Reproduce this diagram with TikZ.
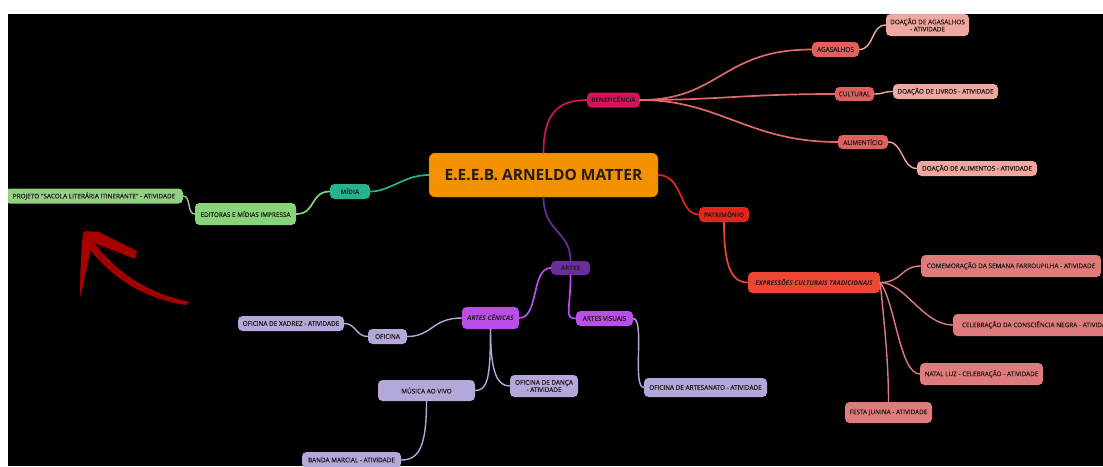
\documentclass[tikz,border=0pt]{standalone}
\usepackage{fontspec}
\setmainfont{Open Sans}
\newfontfamily\semi{Open Sans}[FakeBold=0.5]
\definecolor{txt}{HTML}{241C1C}
\definecolor{cRoot}{HTML}{F39200}
\definecolor{cBen}{HTML}{D3135A}
\definecolor{cBenL}{HTML}{E0605E}
\definecolor{cBenLine}{HTML}{E06A68}
\definecolor{cDoa}{HTML}{EFA89F}
\definecolor{cPat}{HTML}{E8231A}
\definecolor{cExp}{HTML}{EE4634}
\definecolor{cExpL}{HTML}{E07B7B}
\definecolor{cMid}{HTML}{25B38F}
\definecolor{cEdi}{HTML}{88D47A}
\definecolor{cPro}{HTML}{93CF85}
\definecolor{cArt}{HTML}{6B2D9B}
\definecolor{cCen}{HTML}{B94FE8}
\definecolor{cLav}{HTML}{B4A8DA}
\definecolor{cArrow}{HTML}{A80000}
\definecolor{cArrowD}{HTML}{6E0000}
\tikzset{
  nd/.style={rounded corners=4.5pt, inner sep=0pt, align=center, text=txt,
    font=\semi\fontsize{6.4}{7.2}\selectfont},
  nb/.style={nd, font=\bfseries\fontsize{6.2}{7}\selectfont},
  nbi/.style={nd, font=\bfseries\itshape\fontsize{6.5}{7.2}\selectfont},
  con/.style={line width=1.7pt, line cap=round},
  conl/.style={line width=1.4pt, line cap=round},
}
\begin{document}
\begin{tikzpicture}[x=1pt,y=-1pt]
\useasboundingbox (0,0) rectangle (1103,466);
\fill[white] (0,0) rectangle (1103,466);
\fill[black] (8,14) rectangle (1103,466);
\clip (8,14) rectangle (1103,466);

% root
\node[nd, fill=cRoot, draw=cRoot!70!black, line width=0.4pt, rounded corners=6pt,
  minimum width=229pt, minimum height=44pt,
  font=\bfseries\fontsize{15.5}{17}\selectfont] (root) at (543.5,175) {E.E.E.B. ARNELDO MATTER};

% level 1
\node[nb, fill=cBen, minimum width=53pt, minimum height=15pt] (ben) at (613.5,100) {BENEFICÊNCIA};
\node[nb, fill=cPat, minimum width=50pt, minimum height=15pt] (pat) at (724,214.5) {PATRIMÔNIO};
\node[nb, fill=cMid, minimum width=40pt, minimum height=15pt] (mid) at (350,191.5) {MÍDIA};
\node[nb, fill=cArt, minimum width=39pt, minimum height=14pt] (art) at (570.5,268) {ARTES};

% beneficencia branch
\node[nd, fill=cBenL, minimum width=47pt, minimum height=15pt] (aga) at (835.5,49.5) {AGASALHOS};
\node[nd, fill=cBenL, minimum width=39pt, minimum height=14pt] (cul) at (854.5,94) {CULTURAL};
\node[nd, fill=cBenL, minimum width=50pt, minimum height=14pt] (ali) at (863,142) {ALIMENTÍCIO};
\node[nd, fill=cDoa, minimum width=83pt, minimum height=22pt] (dag) at (927.5,25) {DOAÇÃO DE AGASALHOS\\- ATIVIDADE};
\node[nd, fill=cDoa, minimum width=105pt, minimum height=15pt] (dli) at (945.5,91.5) {DOAÇÃO DE LIVROS - ATIVIDADE};
\node[nd, fill=cDoa, minimum width=120pt, minimum height=15pt] (dal) at (977,168.5) {DOAÇÃO DE ALIMENTOS - ATIVIDADE};

% patrimonio branch
\node[nbi, fill=cExp, minimum width=132pt, minimum height=21pt] (exp) at (814,282.5) {EXPRESSÕES CULTURAIS TRADICIONAIS};
\node[nd, fill=cExpL, minimum width=180pt, minimum height=22pt] (com) at (1011,266) {COMEMORAÇÃO DA SEMANA FARROUPILHA - ATIVIDADE};
\node[nd, fill=cExpL, minimum width=170pt, minimum height=22pt] (cel) at (1038,325) {CELEBRAÇÃO DA CONSCIÊNCIA NEGRA - ATIVIDADE};
\node[nd, fill=cExpL, minimum width=123pt, minimum height=22pt] (nat) at (981.5,374) {NATAL LUZ - CELEBRAÇÃO - ATIVIDADE};
\node[nd, fill=cExpL, minimum width=87pt, minimum height=21pt] (fes) at (888.5,412.5) {FESTA JUNINA - ATIVIDADE};

% midia branch
\node[nd, fill=cEdi, minimum width=101pt, minimum height=22pt] (edi) at (245.5,214) {EDITORAS E MÍDIAS IMPRESSA};
\node[nd, fill=cPro, minimum width=178pt, minimum height=15pt] (pro) at (94,196) {PROJETO "SACOLA LITERÁRIA ITINERANTE" - ATIVIDADE};

% artes branch
\node[nbi, fill=cCen, minimum width=57pt, minimum height=22pt] (cen) at (490.5,318) {ARTES CÊNICAS};
\node[nd, fill=cCen, minimum width=57pt, minimum height=15pt] (vis) at (604.5,318.5) {ARTES VISUAIS};
\node[nd, fill=cLav, minimum width=39pt, minimum height=15pt] (ofi) at (387.5,336.5) {OFICINA};
\node[nd, fill=cLav, minimum width=106pt, minimum height=15pt] (xad) at (291,323.5) {OFICINA DE XADREZ - ATIVIDADE};
\node[nd, fill=cLav, minimum width=97pt, minimum height=21pt] (mus) at (426.5,390.5) {MÚSICA AO VIVO};
\node[nd, fill=cLav, minimum width=68pt, minimum height=22pt] (dan) at (544,386) {OFICINA DE DANÇA\\- ATIVIDADE};
\node[nd, fill=cLav, minimum width=123pt, minimum height=19pt] (asn) at (705.5,387.5) {OFICINA DE ARTESANATO - ATIVIDADE};
\node[nd, fill=cLav, minimum width=99pt, minimum height=16pt] (ban) at (351.5,460) {BANDA MARCIAL - ATIVIDADE};

% connectors from root
\draw[con, cBen] (root.north) .. controls +(0,-38) and +(-30,0) .. (ben.west);
\draw[con, cMid] (root.west) .. controls +(-25,0) and +(20,0) .. (mid.east);
\draw[con, cPat] (root.east) .. controls +(25,0) and +(-20,0) .. (pat.west);
\draw[con, cArt] (root.south) .. controls +(0,35) and +(0,-30) .. (art.north);

% beneficencia
\draw[con, cBenLine] (ben.east) .. controls +(80,0) and +(-90,0) .. (aga.west);
\draw[con, cBenLine] (ben.east) .. controls +(80,0) and +(-90,0) .. (cul.west);
\draw[con, cBenLine] (ben.east) .. controls +(80,0) and +(-90,0) .. (ali.west);
\draw[conl, cDoa] (aga.east) .. controls +(15,0) and +(-15,0) .. (dag.west);
\draw[conl, cDoa] (cul.east) .. controls +(10,0) and +(-10,0) .. (dli.west);
\draw[conl, cDoa] (ali.east) .. controls +(15,0) and +(-15,0) .. (dal.west);

% patrimonio
\draw[con, cExp] (pat.south) .. controls +(0,40) and +(-18,0) .. (exp.west);
\draw[conl, cExpL] (exp.east) .. controls +(22,0) and +(-20,0) .. (com.west);
\draw[conl, cExpL] (exp.east) .. controls +(25,0) and +(-30,0) .. (cel.west);
\draw[conl, cExpL] (exp.east) .. controls +(15,20) and +(-20,0) .. (nat.west);
\draw[conl, cExpL] (exp.east) .. controls +(4,40) and +(0,-40) .. (fes.north);

% midia
\draw[con, cEdi] (mid.west) .. controls +(-20,0) and +(20,0) .. (edi.east);
\draw[conl, cPro] (edi.west) .. controls +(-8,0) and +(8,0) .. (pro.east);

% artes
\draw[con, cCen] (art.west) .. controls +(-20,0) and +(20,0) .. (cen.east);
\draw[con, cCen] (art.south) .. controls +(0,35) and +(-12,0) .. (vis.west);
\draw[conl, cLav] (cen.west) .. controls +(-30,0) and +(25,0) .. (ofi.east);
\draw[conl, cLav] (cen.south) .. controls +(0,50) and +(12,0) .. (mus.east);
\draw[conl, cLav] (cen.south) .. controls +(0,45) and +(-12,0) .. (dan.west);
\draw[conl, cLav] (ofi.west) .. controls +(-12,0) and +(12,0) .. (xad.east);
\draw[conl, cLav] (mus.south) .. controls +(0,45) and +(18,0) .. (ban.east);
\draw[conl, cLav] (vis.east) .. controls +(12,0) and +(-12,0) .. (asn.west);

% red brush arrow
\fill[cArrow] (89,236) .. controls (110,266) and (140,292) .. (190,302)
  -- (186,305) .. controls (138,298) and (106,272) .. (85,243) -- cycle;
\fill[cArrow] (83,232) -- (94,234) .. controls (89,256) and (85,278) .. (80,297)
  .. controls (80,276) and (81,254) .. (83,232) -- cycle;
\fill[cArrow] (85,231) -- (99,232) -- (137,251) -- (135,259) -- (118,252) -- (92,242) -- cycle;
\draw[cArrowD, line width=0.5pt] (92,242) -- (118,254);
\draw[cArrowD, line width=0.5pt] (95,250) .. controls (120,280) and (150,295) .. (175,302);
\end{tikzpicture}
\end{document}
